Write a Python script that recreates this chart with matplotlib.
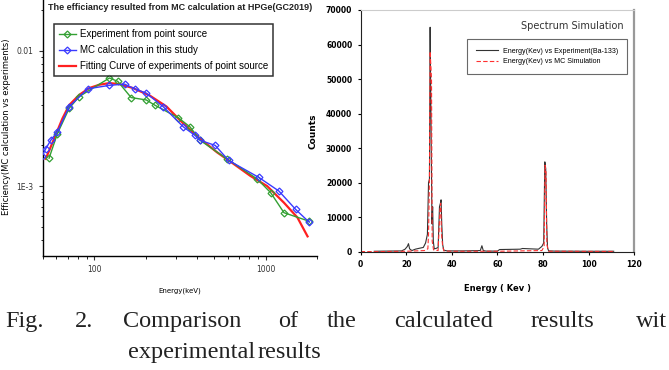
import numpy as np
import matplotlib.pyplot as plt
from matplotlib.ticker import FixedLocator, NullFormatter

# ---- left panel: efficiency vs energy (log-log) ----
exp_energy = [54.4, 60.8, 71.3, 81.6, 122.5, 137, 164, 201, 225, 309, 362, 415,
              595, 894, 1070, 1281, 1798]
exp_eff = [1.61e-3, 2.44e-3, 3.76e-3, 4.59e-3, 6.29e-3, 5.94e-3, 4.51e-3, 4.33e-3,
           3.97e-3, 3.20e-3, 2.74e-3, 2.18e-3, 1.59e-3, 1.13e-3, 8.97e-4, 6.37e-4, 5.51e-4]

mc_energy = [49.6, 52, 55.6, 60.8, 71.3, 91.4, 122.5, 150, 172, 201, 252, 331,
             387, 415, 508, 608, 914, 1197, 1500, 1798]
mc_eff = [1.68e-3, 1.89e-3, 2.18e-3, 2.52e-3, 3.87e-3, 5.23e-3, 5.55e-3, 5.67e-3,
          5.23e-3, 4.86e-3, 3.87e-3, 2.74e-3, 2.37e-3, 2.18e-3, 2.00e-3, 1.55e-3,
          1.16e-3, 9.2e-4, 6.73e-4, 5.42e-4]

fit_energy = [52, 58.2, 65.1, 71.3, 81.6, 93.4, 107, 122.5, 140, 168, 211, 264,
              331, 415, 520, 651, 816, 1023, 1281, 1535, 1759]
fit_eff = [1.59e-3, 2.24e-3, 3.16e-3, 3.97e-3, 4.72e-3, 5.30e-3, 5.61e-3, 5.77e-3,
           5.67e-3, 5.30e-3, 4.66e-3, 3.87e-3, 2.90e-3, 2.24e-3, 1.78e-3, 1.46e-3,
           1.19e-3, 1.00e-3, 7.55e-4, 5.87e-4, 4.26e-4]

# ---- right panel: Ba-133 spectrum ----
spec_exp_e = [6, 18, 19.5, 20.5, 21, 21.5, 22.5, 24, 26, 27.5, 28.5, 29.3, 29.8,
              30.2, 30.5, 30.7, 31.0, 31.3, 31.6, 31.9, 32.3, 33, 34, 34.6, 35.0,
              35.3, 35.6, 36.0, 36.5, 38, 45, 52.5, 53.2, 53.8, 55, 60, 61, 70, 71,
              78, 79.5, 80.3, 80.8, 81.2, 81.6, 82.0, 82.5, 85, 100, 111]
spec_exp_c = [100, 200, 700, 1500, 2300, 800, 300, 700, 1000, 1200, 2500, 5000, 20000,
              21000, 65000, 50000, 30000, 8000, 13000, 3000, 800, 900, 1200, 13000, 14000,
              15000, 8000, 2000, 400, 200, 200, 300, 1700, 300, 150, 150, 600, 700, 900,
              700, 1500, 2500, 26000, 24000, 8000, 1000, 200, 150, 100, 100]

spec_mc_e = [0, 6, 20, 28, 29.5, 29.8, 30.2, 30.5, 30.8, 31.1, 31.4, 32, 34, 34.8,
             35.1, 35.5, 36.0, 36.5, 40, 60, 79.5, 80.5, 80.9, 81.3, 81.7, 82.5, 111]
spec_mc_c = [0, 0, 100, 300, 800, 5000, 21000, 58000, 54000, 50000, 3000, 500, 300,
             12000, 14000, 5000, 1500, 200, 100, 100, 300, 1500, 25000, 23000, 2000, 100, 50]

SANS = 'Liberation Sans'

fig = plt.figure(figsize=(6.69, 3.70), dpi=100)

# left chart
ax1 = fig.add_axes([0.064, 0.308, 0.41, 0.70])
ax1.set_xscale('log')
ax1.set_yscale('log')
ax1.plot(fit_energy, fit_eff, color='#ff2020', lw=1.6, zorder=2,
         label='Fitting Curve of experiments of point source')
ax1.plot(exp_energy, exp_eff, color='#33a033', lw=1.0, marker='D', ms=3.5,
         mfc='none', mew=0.9, zorder=3, label='Experiment from point source')
ax1.plot(mc_energy, mc_eff, color='#3a3aff', lw=1.0, marker='D', ms=3.5,
         mfc='none', mew=0.9, zorder=4, label='MC calculation in this study')
ax1.set_xlim(50, 2000)
ax1.set_ylim(3.05e-4, 0.0249)
for s in ['top', 'right']:
    ax1.spines[s].set_visible(False)
for s in ['left', 'bottom']:
    ax1.spines[s].set_linewidth(1.0)
ax1.xaxis.set_major_locator(FixedLocator([100, 1000]))
ax1.set_xticklabels(['100', '1000'])
ax1.yaxis.set_major_locator(FixedLocator([1e-3, 1e-2]))
ax1.set_yticklabels(['1E-3', '0.01'])
ax1.yaxis.set_minor_formatter(NullFormatter())
ax1.xaxis.set_minor_formatter(NullFormatter())
ax1.tick_params(labelsize=5.5, length=3, width=0.8, colors='#333333')
ax1.tick_params(which='minor', length=1.8, width=0.6)
ax1.set_xlabel('Energy(keV)', fontsize=5, labelpad=10)
ax1.set_ylabel('Efficiency(MC calculation vs experiments)', fontsize=6, labelpad=4)
ax1.text(0.018, 0.977, 'The efficiancy resulted from MC calculation at HPGe(GC2019)',
         transform=ax1.transAxes, fontsize=6.5, fontweight='bold', family=SANS,
         va='top', ha='left', color='#222222')
handles, labels = ax1.get_legend_handles_labels()
order = [1, 2, 0]
leg1 = ax1.legend([handles[i] for i in order], [labels[i] for i in order],
                  loc='upper left', bbox_to_anchor=(0.04, 0.895),
                  prop={'family': SANS, 'size': 7.0},
                  frameon=True, fancybox=False, edgecolor='black', handlelength=1.8,
                  borderpad=0.5, labelspacing=0.62, handletextpad=0.4,
                  borderaxespad=0)
leg1.get_frame().set_linewidth(1.1)

# right chart
ax2 = fig.add_axes([0.539, 0.320, 0.409, 0.653])
ax2.plot(spec_exp_e, spec_exp_c, color='#333333', lw=0.8,
         label='Energy(Kev) vs Experiment(Ba-133)')
ax2.plot(spec_mc_e, spec_mc_c, color='#ff3030', lw=0.8, ls=(0, (4, 2)),
         label='Energy(Kev) vs MC Simulation')
ax2.set_xlim(0, 120)
ax2.set_ylim(0, 70000)
ax2.set_xticks(np.arange(0, 121, 20))
ax2.set_yticks(np.arange(0, 70001, 10000))
ax2.tick_params(labelsize=5.5, length=2.5, width=0.8, direction='out')
for lab in ax2.get_xticklabels() + ax2.get_yticklabels():
    lab.set_fontweight('bold')
ax2.spines['left'].set_color('#222222')
ax2.spines['bottom'].set_color('#222222')
ax2.spines['right'].set_color('#999999')
ax2.spines['right'].set_linewidth(1.6)
ax2.spines['top'].set_color('#cccccc')
ax2.set_xlabel('Energy ( Kev )', fontsize=6, fontweight='bold', labelpad=11)
ax2.set_ylabel('Counts', fontsize=6.5, fontweight='bold', labelpad=6)
ax2.text(0.96, 0.935, 'Spectrum Simulation', transform=ax2.transAxes,
         fontsize=7, ha='right', va='center', color='#333333')
leg2 = ax2.legend(loc='upper right', bbox_to_anchor=(0.975, 0.88),
                  prop={'family': SANS, 'size': 5.1},
                  frameon=True, fancybox=False, edgecolor='#444444', handlelength=3,
                  borderpad=1.25, labelspacing=0.45, borderaxespad=0)
leg2.get_frame().set_linewidth(0.8)

# caption, justified words on the first line
cap_font = dict(family='Liberation Serif', fontsize=17.5, va='baseline', ha='left',
                color='#222222')
line1_words = ['Fig.', '2.', 'Comparison', 'of', 'the', 'calculated', 'results', 'wit']
line1_x = [5, 75, 123, 278, 327, 394, 531, 636]
for w, x in zip(line1_words, line1_x):
    fig.text(x / 669, 1 - 327 / 370, w, **cap_font)
line2_words = ['experimental', 'results']
line2_x = [128, 258]
for w, x in zip(line2_words, line2_x):
    fig.text(x / 669, 1 - 358 / 370, w, **cap_font)

fig.savefig('out.png', dpi=100)
